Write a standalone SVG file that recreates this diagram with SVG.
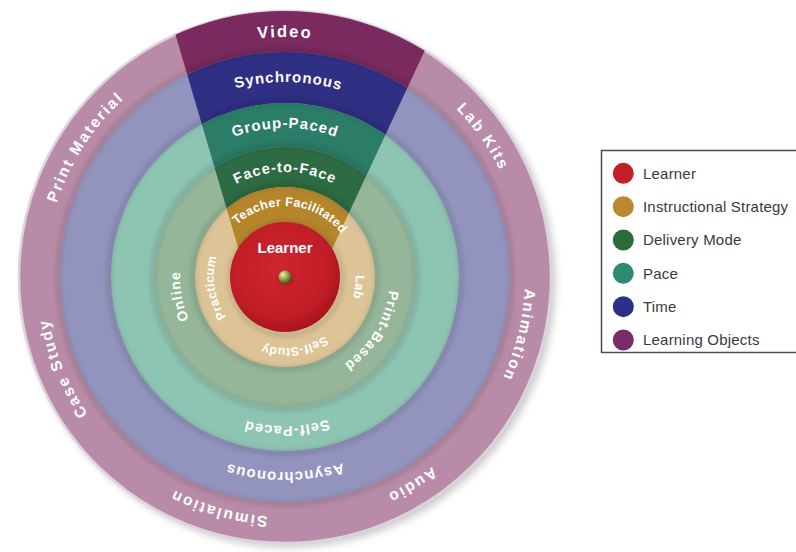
<svg xmlns="http://www.w3.org/2000/svg" xmlns:xlink="http://www.w3.org/1999/xlink" width="796" height="552" viewBox="0 0 796 552">
<style>
.lbl{font-family:"Liberation Sans",Arial,sans-serif;font-weight:bold;fill:#fff}
.lo{font-size:15.5px;letter-spacing:2px}
.tm{font-size:15px;letter-spacing:1px}
.pc{font-size:15px;letter-spacing:1px}
.dm{font-size:14px;letter-spacing:1px}
.is{font-size:12.5px;letter-spacing:0.3px}
.leg{font-family:"Liberation Sans",Arial,sans-serif;font-size:15px;fill:#3a3a3a;letter-spacing:0.2px}
.edge{fill:none;stroke:#000;stroke-opacity:0.1;stroke-width:6;filter:url(#soft)}
</style>
<defs>
<filter id="soft" x="-20%" y="-20%" width="140%" height="140%"><feGaussianBlur stdDeviation="2"/></filter>
<filter id="shadow" x="-20%" y="-20%" width="140%" height="140%"><feGaussianBlur stdDeviation="4"/></filter>
<clipPath id="wedge"><polygon points="165.3,0 448.4,0 308.2,300 253.5,300"/></clipPath>
<radialGradient id="redg" cx="45%" cy="42%" r="60%"><stop offset="0" stop-color="#cf2630"/><stop offset="0.75" stop-color="#c11d27"/><stop offset="1" stop-color="#a3141c"/></radialGradient>
<radialGradient id="ballg" cx="35%" cy="32%" r="70%"><stop offset="0" stop-color="#f6f0b8"/><stop offset="0.45" stop-color="#9cb24c"/><stop offset="1" stop-color="#3f5e1c"/></radialGradient>
<path id="c240" d="M285 37 A240 240 0 1 1 285 517 A240 240 0 1 1 285 37 A240 240 0 1 1 285 517 A240 240 0 1 1 285 37"/>
<path id="c195" d="M285 82 A195 195 0 1 1 285 472 A195 195 0 1 1 285 82 A195 195 0 1 1 285 472 A195 195 0 1 1 285 82"/>
<path id="c149" d="M285 128 A149 149 0 1 1 285 426 A149 149 0 1 1 285 128 A149 149 0 1 1 285 426 A149 149 0 1 1 285 128"/>
<path id="c105" d="M285 172 A105 105 0 1 1 285 382 A105 105 0 1 1 285 172 A105 105 0 1 1 285 382 A105 105 0 1 1 285 172"/>
<path id="c71" d="M285 206 A71 71 0 1 1 285 348 A71 71 0 1 1 285 206 A71 71 0 1 1 285 348 A71 71 0 1 1 285 206"/>
</defs>
<rect width="796" height="552" fill="#fff"/>
<circle cx="289" cy="281" r="266" fill="#000" opacity="0.22" filter="url(#shadow)"/>

<g id="learning-objects">
<circle cx="285" cy="277" r="266" fill="#b88ca8" stroke="#ddd3dc" stroke-width="2.5"/>
<circle cx="285" cy="277" r="266" fill="#7a2a5e" clip-path="url(#wedge)"/>
</g>
<g id="time">
<circle cx="285" cy="277" r="225" fill="#9294be"/>
<circle cx="285" cy="277" r="225" fill="#2f2f84" clip-path="url(#wedge)"/>
<circle class="edge" cx="285" cy="277" r="227"/>
</g>
<g id="pace">
<circle cx="285" cy="277" r="174" fill="#8ec4b2"/>
<circle cx="285" cy="277" r="174" fill="#2b7d68" clip-path="url(#wedge)"/>
<circle class="edge" cx="285" cy="277" r="176"/>
</g>
<g id="delivery-mode">
<circle cx="285" cy="277" r="130" fill="#95b699"/>
<circle cx="285" cy="277" r="130" fill="#2d6b43" clip-path="url(#wedge)"/>
<circle class="edge" cx="285" cy="277" r="132"/>
</g>
<g id="instructional-strategy">
<circle cx="285" cy="277" r="90" fill="#dcc497"/>
<circle cx="285" cy="277" r="90" fill="#b5852c" clip-path="url(#wedge)"/>
<circle class="edge" cx="285" cy="277" r="92"/>
</g>
<g id="learner">
<circle class="edge" cx="286" cy="279" r="56"/>
<circle cx="285" cy="277" r="55" fill="url(#redg)"/>
<circle cx="286" cy="278.5" r="7" fill="#5a0a0e" opacity="0.35" filter="url(#soft)"/>
<circle cx="285" cy="277" r="6.5" fill="url(#ballg)"/>
<text class="lbl" x="285" y="253" font-size="15" text-anchor="middle">Learner</text>
</g>

<g id="labels-learning-objects" class="lbl lo" text-anchor="middle">
<text font-size="16.5"><textPath href="#c240" startOffset="50%">Video</textPath></text>
<text><textPath href="#c240" startOffset="57.6%">Lab Kits</textPath></text>
<text><textPath href="#c240" startOffset="64.44%">Animation</textPath></text>
<text><textPath href="#c240" startOffset="70.64%">Audio</textPath></text>
<text><textPath href="#c240" startOffset="27.22%">Simulation</textPath></text>
<text><textPath href="#c240" startOffset="34.4%">Case Study</textPath></text>
<text><textPath href="#c240" startOffset="42.08%">Print Material</textPath></text>
</g>
<g id="labels-time" class="lbl tm" text-anchor="middle">
<text><textPath href="#c195" startOffset="50.14%">Synchronous</textPath></text>
<text><textPath href="#c195" startOffset="25%">Asynchronous</textPath></text>
</g>
<g id="labels-pace" class="lbl pc" text-anchor="middle">
<text><textPath href="#c149" startOffset="50%">Group-Paced</textPath></text>
<text font-size="14.5"><textPath href="#c149" startOffset="74.9%">Self-Paced</textPath></text>
</g>
<g id="labels-delivery" class="lbl dm" text-anchor="middle">
<text font-size="14.5"><textPath href="#c105" startOffset="50%">Face-to-Face</textPath></text>
<text><textPath href="#c105" startOffset="36.06%">Online</textPath></text>
<text><textPath href="#c105" startOffset="66.9%">Print-Based</textPath></text>
</g>
<g id="labels-instructional" class="lbl is" text-anchor="middle">
<text><textPath href="#c71" startOffset="50.69%">Teacher Facilitated</textPath></text>
<text><textPath href="#c71" startOffset="63.6%">Lab</textPath></text>
<text><textPath href="#c71" startOffset="73.9%">Self-Study</textPath></text>
<text><textPath href="#c71" startOffset="36.28%">Practicum</textPath></text>
</g>

<g id="legend">
<rect x="601.5" y="150.5" width="200" height="202" fill="#fff" stroke="#4b4b5e" stroke-width="1.5"/>
<circle cx="623.3" cy="173.3" r="10.5" fill="#c41e26"/>
<text class="leg" x="643" y="178.5">Learner</text>
<circle cx="623.3" cy="206.7" r="10.5" fill="#b9892f"/>
<text class="leg" x="643" y="211.9">Instructional Strategy</text>
<circle cx="623.3" cy="240" r="10.5" fill="#2d6a3a"/>
<text class="leg" x="643" y="245.2">Delivery Mode</text>
<circle cx="623.3" cy="273.3" r="10.5" fill="#2e8a72"/>
<text class="leg" x="643" y="278.5">Pace</text>
<circle cx="623.3" cy="306.7" r="10.5" fill="#2e3088"/>
<text class="leg" x="643" y="311.9">Time</text>
<circle cx="623.3" cy="340" r="10.5" fill="#7a2a66"/>
<text class="leg" x="643" y="345.2">Learning Objects</text>
</g>
</svg>
